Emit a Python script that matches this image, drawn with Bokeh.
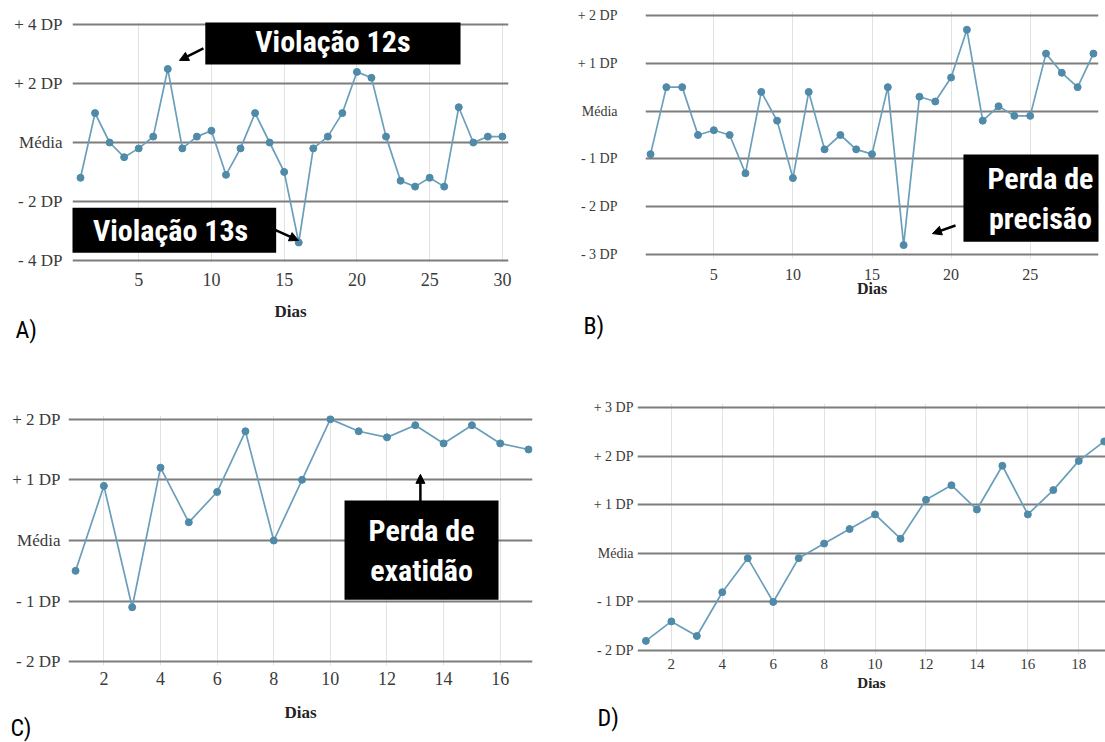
from bokeh.plotting import figure
from bokeh.models import Label, Arrow, NormalHead, FixedTicker, Range1d, Title
from bokeh.layouts import column, row
from bokeh.embed import file_html
from bokeh.resources import INLINE

# ---------------- data ----------------
days_A = list(range(1, 31))
vals_A = [-1.2, 1.0, 0.0, -0.5, -0.2, 0.2, 2.5, -0.2, 0.2, 0.4, -1.1, -0.2, 1.0, 0.0, -1.0,
          -3.4, -0.2, 0.2, 1.0, 2.4, 2.2, 0.2, -1.3, -1.5, -1.2, -1.5, 1.2, 0.0, 0.2, 0.2]
yticks_A = [-4, -2, 0, 2, 4]
ylabels_A = ["- 4 DP", "- 2 DP", "Média", "+ 2 DP", "+ 4 DP"]
xticks_A = [5, 10, 15, 20, 25, 30]

days_B = list(range(1, 30))
vals_B = [-0.9, 0.5, 0.5, -0.5, -0.4, -0.5, -1.3, 0.4, -0.2, -1.4, 0.4, -0.8, -0.5, -0.8, -0.9,
          0.5, -2.8, 0.3, 0.2, 0.7, 1.7, -0.2, 0.1, -0.1, -0.1, 1.2, 0.8, 0.5, 1.2]
yticks_B = [-3, -2, -1, 0, 1, 2]
ylabels_B = ["- 3 DP", "- 2 DP", "- 1 DP", "Média", "+ 1 DP", "+ 2 DP"]
xticks_B = [5, 10, 15, 20, 25]

days_C = list(range(1, 18))
vals_C = [-0.5, 0.9, -1.1, 1.2, 0.3, 0.8, 1.8, 0.0, 1.0, 2.0, 1.8, 1.7, 1.9, 1.6, 1.9, 1.6, 1.5]
yticks_C = [-2, -1, 0, 1, 2]
ylabels_C = ["- 2 DP", "- 1 DP", "Média", "+ 1 DP", "+ 2 DP"]
xticks_C = [2, 4, 6, 8, 10, 12, 14, 16]

days_D = list(range(1, 20))
vals_D = [-1.8, -1.4, -1.7, -0.8, -0.1, -1.0, -0.1, 0.2, 0.5, 0.8, 0.3, 1.1, 1.4, 0.9, 1.8,
          0.8, 1.3, 1.9, 2.3]
yticks_D = [-2, -1, 0, 1, 2, 3]
ylabels_D = ["- 2 DP", "- 1 DP", "Média", "+ 1 DP", "+ 2 DP", "+ 3 DP"]
xticks_D = [2, 4, 6, 8, 10, 12, 14, 16, 18]

x_title = "Dias"

# ---------------- style ----------------
LINE = "#6a9fbb"
MARK = "#4f8ba8"
HGRID = "#7d7d7d"
VGRID = "#e2e2e2"
SERIF = "Liberation Serif"
NARROW = "Roboto Condensed"


def panel(days, vals, yticks, ylabels, xticks, w, h, xr, yr, borders,
          fs_y, fs_x, fs_t, y_so, x_so, t_so):
    left, right, top, bottom = borders
    p = figure(width=w, height=h, x_range=Range1d(*xr), y_range=Range1d(*yr),
               output_backend="svg", toolbar_location=None, frame_align=False,
               min_border_left=left, min_border_right=right,
               min_border_top=top, min_border_bottom=bottom)
    p.outline_line_color = None
    p.background_fill_color = "white"
    p.border_fill_color = "white"
    p.xaxis.ticker = FixedTicker(ticks=xticks)
    p.yaxis.ticker = FixedTicker(ticks=yticks)
    p.yaxis.major_label_overrides = {t: l for t, l in zip(yticks, ylabels)}
    for ax in (p.xaxis[0], p.yaxis[0]):
        ax.axis_line_color = None
        ax.major_tick_line_color = None
        ax.minor_tick_line_color = None
        ax.major_tick_out = 0
        ax.major_tick_in = 0
        ax.minor_tick_out = 0
        ax.minor_tick_in = 0
        ax.major_label_text_font = SERIF
        ax.major_label_text_color = "#3a3a3a"
    p.yaxis.major_label_text_font_size = f"{fs_y}px"
    p.xaxis.major_label_text_font_size = f"{fs_x}px"
    p.yaxis.major_label_standoff = y_so
    p.xaxis.major_label_standoff = x_so
    p.xaxis.axis_label = x_title
    p.xaxis.axis_label_text_font = SERIF
    p.xaxis.axis_label_text_font_style = "bold"
    p.xaxis.axis_label_text_font_size = f"{fs_t}px"
    p.xaxis.axis_label_text_color = "#222222"
    p.xaxis.axis_label_standoff = t_so
    p.ygrid.grid_line_color = HGRID
    p.ygrid.grid_line_width = 2
    p.xgrid.grid_line_color = VGRID
    p.xgrid.grid_line_width = 1
    p.line(days, vals, line_color=LINE, line_width=1.7)
    p.scatter(days, vals, size=7, fill_color=MARK, line_color=MARK)
    return p


def callout(p, x, y, text, pad):
    p.add_layout(Label(x=x, y=y, text=text, text_align="center", text_baseline="middle",
                       text_font=NARROW, text_font_style="bold", text_font_size="30px",
                       text_color="white", text_line_height=1.15,
                       background_fill_color="black", background_fill_alpha=1.0,
                       padding=pad))


def arrow(p, x0, y0, x1, y1):
    p.add_layout(Arrow(x_start=x0, y_start=y0, x_end=x1, y_end=y1,
                       line_color="black", line_width=2.5,
                       end=NormalHead(size=9, fill_color="black", line_color="black")))


def tag(p, text, offset, standoff):
    p.add_layout(Title(text=text, align="left", offset=offset, standoff=standoff,
                       text_font=NARROW, text_font_size="24px", text_font_style="normal",
                       text_color="black"), "below")


# Panel A
pA = panel(days_A, vals_A, yticks_A, ylabels_A, xticks_A, 550, 370,
           (0.45, 30.42), (-4.08, 4.08), (72, 42, 22, 108), 17, 18, 17, 10, 10, 13)
callout(pA, 18.35, 3.42, "Violação 12s", dict(left=50, right=50, top=5, bottom=5))
arrow(pA, 9.45, 3.2, 7.8, 2.79)
callout(pA, 7.19, -2.98, "Violação 13s", dict(left=28, right=28, top=5, bottom=5))
arrow(pA, 14.33, -2.96, 15.98, -3.33)
tag(pA, "A)", -57, -20)

# Panel B
pB = panel(days_B, vals_B, yticks_B, ylabels_B, xticks_B, 555, 370,
           (0.68, 29.32), (-3.08, 2.08), (95, 7, 11, 112), 14, 16, 16, 28, 10, -3)
callout(pB, 25.65, -1.82, "Perda de\nprecisão", dict(left=24, right=24, top=6, bottom=6))
arrow(pB, 20.28, -2.39, 18.82, -2.56)
tag(pB, "B)", -62, 21)

# Panel C
pC = panel(days_C, vals_C, yticks_C, ylabels_C, xticks_C, 550, 372,
           (0.75, 17.14), (-2.06, 2.06), (68, 18, 45, 77), 17, 18, 17, 8, 6, 15)
callout(pC, 13.22, -0.16, "Perda de\nexatidão", dict(left=24, right=24, top=12, bottom=12))
arrow(pC, 13.18, 0.61, 13.18, 1.09)
tag(pC, "C)", -58, -25)

# Panel D
pD = panel(days_D, vals_D, yticks_D, ylabels_D, xticks_D, 555, 372,
           (0.67, 19.05), (-2.08, 3.08), (87, 0, 33, 88), 14, 15, 15, 4, 4, 3)
tag(pD, "D)", -40, 17)

layout = column(row(pA, pB), row(pC, pD))
open("out.html", "w").write(file_html(layout, INLINE))
